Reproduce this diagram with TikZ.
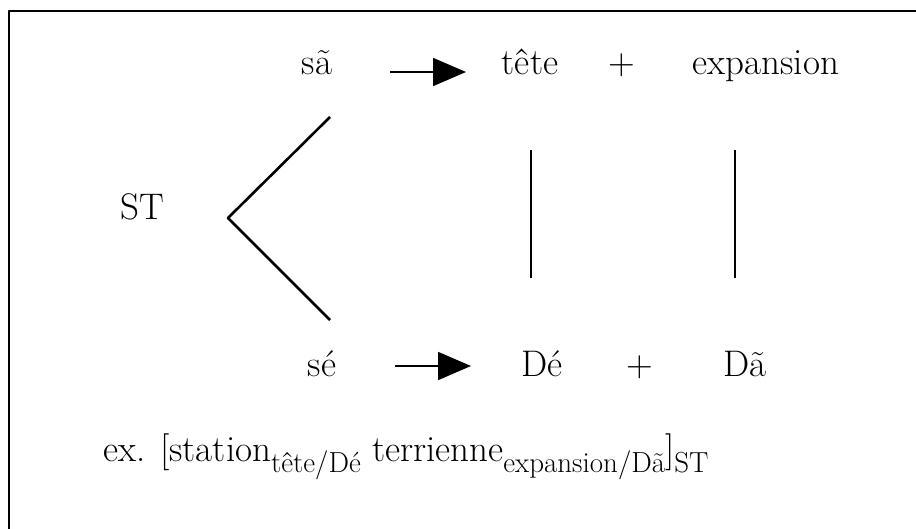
\documentclass[tikz,border=0pt]{standalone}
\usepackage{fontspec}
\usetikzlibrary{arrows.meta}
\newcommand{\subtxt}[1]{\raisebox{-0.3em}{\fontsize{29}{32}\selectfont #1}}
\begin{document}
\begin{tikzpicture}[x=1pt, y=-1pt, font=\fontsize{37}{44}\selectfont, line join=round,
		word/.style={inner sep=0pt, anchor=base},
		bigarrow/.style={-{Triangle[length=33pt,width=28pt]}, line width=1.8pt},
		bar/.style={line width=2.6pt}]
	\useasboundingbox (0,0) rectangle (916,529);
	\draw[line width=2.8pt] (9,11) rectangle (1000,600);
	% upper row
	\foreach \n/\x/\t in {sa/317/sã, tete/530/tête, pa/622/+, exp/766/expansion}{
		\node[word] (\n) at (\x,75) {\t};
	}
	% lower row
	\foreach \n/\x/\t in {se/322/sé, De/542/Dé, pb/640/+, Da/745/Dã}{
		\node[word] (\n) at (\x,377) {\t};
	}
	\node[word] (ST) at (142,220) {ST};
	\path (228,218) coordinate (V)
		(330,117) coordinate (Vt)
		(330,320) coordinate (Vb)
		(390,72) coordinate (a1) (466,72) coordinate (a2)
		(395,366) coordinate (b1) (471,366) coordinate (b2)
		(531,150) coordinate (t1) (531,278) coordinate (t2)
		(735,150) coordinate (e1) (735,278) coordinate (e2);
	\draw[line width=2.6pt] (Vt)--(V)--(Vb);
	\draw[bigarrow] (a1)--(a2);
	\draw[bigarrow] (b1)--(b2);
	\draw[bar] (t1)--(t2) (e1)--(e2);
	\node[word, anchor=base west] (ex) at (103,461)
		{ex. [station\subtxt{tête/Dé} terrienne\subtxt{expansion/Dã}]\subtxt{ST}};
\end{tikzpicture}
\end{document}
